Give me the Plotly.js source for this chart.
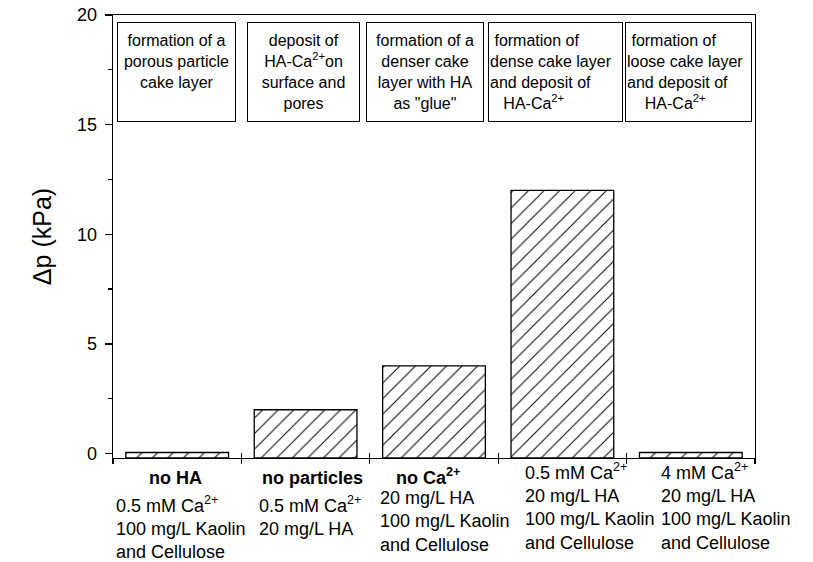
<!DOCTYPE html>
<html>
<head>
<meta charset="utf-8">
<script src="https://cdn.plot.ly/plotly-3.0.1.min.js"></script>
<style>
  html, body { margin: 0; padding: 0; background: #fff; }
  #chart { width: 813px; height: 562px; }
</style>
</head>
<body>
<div id="chart"></div>
<script>
// ---- data ----
const categories = ['no HA', 'no particles', 'no Ca2+', '0.5 mM Ca2+', '4 mM Ca2+'];
const pressureDrop = [0.05, 2, 4, 12, 0.05]; // Δp in kPa
const headlines = ['no HA', 'no particles', 'no Ca<sup>2+</sup>', '', ''];
const conditions = [
  '0.5 mM Ca<sup>2+</sup><br>100 mg/L Kaolin<br>and Cellulose',
  '0.5 mM Ca<sup>2+</sup><br>20 mg/L HA',
  '20 mg/L HA<br>100 mg/L Kaolin<br>and Cellulose',
  '0.5 mM Ca<sup>2+</sup><br>20 mg/L HA<br>100 mg/L Kaolin<br>and Cellulose',
  '4 mM Ca<sup>2+</sup><br>20 mg/L HA<br>100 mg/L Kaolin<br>and Cellulose'
];
const mechanisms = [
  'formation of a<br>porous particle<br>cake layer<br>\u00A0',
  'deposit of<br>HA-Ca<sup>2+</sup>on<br>surface and<br>pores',
  'formation of a<br>denser cake<br>layer with HA<br>as "glue"',
  '\u00A0formation of<br>dense cake layer<br>and deposit of<br>\u00A0\u00A0\u00A0HA-Ca<sup>2+</sup>',
  '\u00A0formation of<br>loose cake layer<br>and deposit of<br>\u00A0\u00A0\u00A0\u00A0HA-Ca<sup>2+</sup>'
];
const yTickVals = [0, 5, 10, 15, 20];
const yTickText = ['0', '5', '10', '15', '20'];

// ---- layout helpers (positions/styles only) ----
const FONT = '"Liberation Sans", Arial, sans-serif';
const yMin = -0.2;
const boxLayout = [
  {x: 0.0062, w: 115, align: 'center'},
  {x: 0.2087, w: 109, align: 'center'},
  {x: 0.3940, w: 114, align: 'center'},
  {x: 0.5840, w: 131, align: 'left'},
  {x: 0.7975, w: 123, align: 'left'}
];
const condLayout = [
  {x: 0.0016, ys: -33},
  {x: 0.2240, ys: -33},
  {x: 0.4130, ys: -28},
  {x: 0.6386, ys: 0},
  {x: 0.8505, ys: 0}
];
const headLayout = [
  {x: 0.0966, ys: -8},
  {x: 0.3100, ys: -8},
  {x: 0.4907, ys: -5},
  null, null
];

const traces = [
  {
    type: 'bar',
    x: categories,
    y: pressureDrop.map(v => v - yMin),
    base: yMin,
    width: 0.8,
    marker: {
      color: 'white',
      line: {color: 'black', width: 1.3},
      pattern: {shape: '/', fgcolor: 'black', bgcolor: 'white', size: 11, solidity: 0.09}
    },
    hoverinfo: 'x',
    showlegend: false
  },
  {
    type: 'scatter',
    mode: 'none',
    x: categories,
    y: pressureDrop,
    xaxis: 'x2',
    hoverinfo: 'skip',
    showlegend: false
  }
];

const annotations = [];
mechanisms.forEach((t, i) => {
  annotations.push({
    xref: 'paper', yref: 'paper',
    x: boxLayout[i].x, y: 0.984,
    xanchor: 'left', yanchor: 'top',
    width: boxLayout[i].w, height: 96,
    text: t,
    align: boxLayout[i].align, valign: 'middle',
    showarrow: false,
    bordercolor: 'black', borderwidth: 1, borderpad: 1,
    bgcolor: 'white',
    font: {family: FONT, size: 16, color: 'black'}
  });
});
conditions.forEach((t, i) => {
  annotations.push({
    xref: 'paper', yref: 'paper',
    x: condLayout[i].x, y: 0, yshift: condLayout[i].ys,
    xanchor: 'left', yanchor: 'top',
    text: t, align: 'left', showarrow: false,
    font: {family: FONT, size: 18, color: 'black'}
  });
});
headlines.forEach((t, i) => {
  if (!t) return;
  annotations.push({
    xref: 'paper', yref: 'paper',
    x: headLayout[i].x, y: 0, yshift: headLayout[i].ys,
    xanchor: 'center', yanchor: 'top',
    text: '<b>' + t + '</b>', align: 'center', showarrow: false,
    font: {family: FONT, size: 18, color: 'black'}
  });
});

const axisCommon = {
  showgrid: false, zeroline: false,
  showline: true, linecolor: 'black', linewidth: 1.3,
  tickcolor: 'black', tickwidth: 1.3
};

const layout = {
  width: 813, height: 562,
  margin: {l: 113, r: 58, t: 15, b: 104},
  paper_bgcolor: 'white', plot_bgcolor: 'white',
  font: {family: FONT, color: 'black'},
  bargap: 0.2,
  xaxis: Object.assign({}, axisCommon, {
    type: 'category',
    categoryorder: 'array', categoryarray: categories,
    range: [-0.5, 4.5],
    tickson: 'boundaries',
    ticks: 'outside', ticklen: 5,
    showticklabels: false,
    mirror: true,
    fixedrange: true
  }),
  xaxis2: {
    type: 'category',
    categoryorder: 'array', categoryarray: categories,
    overlaying: 'x',
    range: [-0.5, 4.5],
    tickson: 'boundaries',
    ticks: 'inside', ticklen: 5, tickcolor: 'black', tickwidth: 1.3,
    showticklabels: false, showline: false, showgrid: false, zeroline: false,
    side: 'bottom'
  },
  yaxis: Object.assign({}, axisCommon, {
    range: [yMin, 20],
    tickvals: yTickVals, ticktext: yTickText,
    ticks: 'outside', ticklen: 7,
    ticklabelstandoff: 4,
    minor: {dtick: 2.5, ticks: 'outside', ticklen: 4, tickcolor: 'black', tickwidth: 1.3, showgrid: false},
    tickfont: {family: FONT, size: 18, color: 'black'},
    mirror: true,
    title: {text: 'Δp (kPa)', font: {family: FONT, size: 25, color: 'black'}, standoff: 18},
    fixedrange: true
  }),
  annotations: annotations
};

Plotly.newPlot('chart', traces, layout, {displayModeBar: false, staticPlot: true});
</script>
</body>
</html>
